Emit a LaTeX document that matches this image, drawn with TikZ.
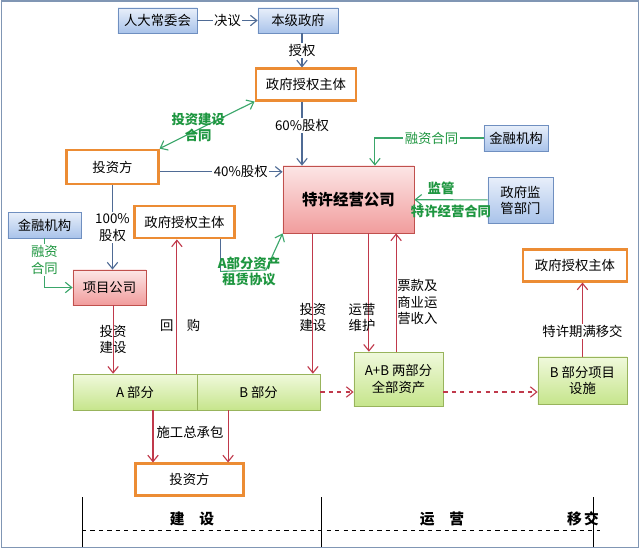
\documentclass[tikz,border=0pt]{standalone}
\usepackage{fontspec}
\setmainfont{Noto Sans CJK SC}
\usetikzlibrary{arrows.meta}

\definecolor{edgeblue}{HTML}{6F8FC0}
\definecolor{blueTop}{HTML}{E8EFFA}
\definecolor{blueBot}{HTML}{A9C3EA}
\definecolor{edgepink}{HTML}{C0504D}
\definecolor{pinkTop}{HTML}{FCE6E6}
\definecolor{pinkBot}{HTML}{F19C9C}
\definecolor{edgelime}{HTML}{98B45C}
\definecolor{limeTop}{HTML}{F0F9DC}
\definecolor{limeBot}{HTML}{C6E58C}
\definecolor{edgeorange}{HTML}{EC8C34}
\definecolor{lineblue}{HTML}{4F6B95}
\definecolor{linered}{HTML}{C0394B}
\definecolor{linegreen}{HTML}{3AA66A}
\definecolor{textgreen}{HTML}{1E9640}
\definecolor{framecol}{HTML}{8096B4}

\begin{document}
\begin{tikzpicture}[x=0.025cm, y=-0.025cm,
    font=\fontsize{9.5}{11.5}\selectfont,
    >={Straight Barb[length=1.6mm,width=2.6mm]},
    wh/.style 2 args={minimum width=#1cm, minimum height=#2cm, inner sep=1pt},
    bluebox/.style={draw=edgeblue, top color=blueTop, bottom color=blueBot},
    pinkbox/.style={draw=edgepink, top color=pinkTop, bottom color=pinkBot},
    limebox/.style={draw=edgelime, top color=limeTop, bottom color=limeBot, align=center},
    orangebox/.style={draw=edgeorange, line width=2pt, fill=white},
    bluearrow/.style={draw=lineblue, line width=0.8pt, ->},
    redarrow/.style={draw=linered, line width=0.8pt, ->},
    greenarrow/.style={draw=linegreen, line width=0.8pt, ->},
    greenbold/.style={text=textgreen, font=\fontsize{9.5}{11.5}\selectfont\bfseries, align=center},
    greenplain/.style={text=textgreen, align=center}]
  \useasboundingbox (0,0) rectangle (640,549);
  \draw[framecol, line width=1pt] (1.5,1) rectangle (638.5,547.5);

  % boxes
  \begin{scope}
    \node[bluebox, wh={1.98}{0.63}] (npc) at (157.5,20.5) {人大常委会};
    \node[bluebox, wh={2}{0.63}] (gov) at (298,20.5) {本级政府};
    \node[orangebox, wh={2.5}{0.78}] (topauth) at (306,84.5) {政府授权主体};
    \node[pinkbox, wh={3.28}{1.68}, font=\fontsize{11}{13}\selectfont\bfseries] (comp) at (348.5,199.5) {特许经营公司};
    \node[orangebox, wh={2.28}{0.85}] (invtop) at (112.5,167) {投资方};
    \node[bluebox, wh={1.6}{0.65}] (finR) at (516,138) {金融机构};
    \node[bluebox, wh={1.63}{1.15}, align=center] (supv) at (520.5,200) {政府监\\管部门};
    \node[bluebox, wh={1.83}{0.65}] (finL) at (44.5,225) {金融机构};
    \node[pinkbox, wh={1.83}{0.88}] (spv) at (109.5,287.5) {项目公司};
    \node[orangebox, wh={2.48}{0.8}] (midauth) at (184.5,222) {政府授权主体};
    \node[limebox, wh={3.1}{0.9}] (partA) at (135,392) {A 部分};
    \node[limebox, wh={3.08}{0.9}] (partB) at (258.5,392) {B 部分};
    \node[limebox, wh={2.23}{1.35}] (assets) at (398.5,379) {A+B 两部分\\全部资产};
    \node[limebox, wh={2.23}{1.18}] (partBfac) at (582.5,380.5) {B 部分项目\\设施};
    \node[orangebox, wh={2.6}{0.78}] (authR) at (575,265.5) {政府授权主体};
    \node[orangebox, wh={2.68}{0.78}] (invbot) at (189.5,479.5) {投资方};
  \end{scope}

  % equity and approval
  \begin{scope}[bluearrow]
    \draw (npc) -- node[fill=white, inner sep=1pt] {决议} (gov);
    \draw ([xshift=0.1cm]gov.south) -- node[fill=white, inner sep=1pt] {授权}
      ([xshift=0.1cm]gov.south |- topauth.north);
    \draw ([xshift=-0.1cm]topauth.south) -- node[fill=white, inner sep=1pt, pos=0.38] {60\%股权}
      ([xshift=-0.1cm]topauth.south |- comp.north);
    \draw ([yshift=-0.12cm]invtop.east) -- node[fill=white, inner sep=1pt, pos=0.66] {40\%股权}
      ([yshift=-0.12cm]invtop.east -| comp.west);
    \draw (invtop.south) -- node[fill=white, inner sep=1pt, align=center] {100\%\\股权}
      (invtop.south |- spv.north);
    \draw[-] ([xshift=0.89cm]midauth.south) -- ++(0,32) coordinate (leasecorner);
  \end{scope}

  % contracts
  \begin{scope}[greenarrow]
    \draw[<->] (invtop.north east) -- node[greenbold, xshift=-0.22cm, yshift=-0.05cm] {投资建设\\合同} (topauth.south west);
    \draw (finR) -| node[greenplain, pos=0.24, fill=white, inner sep=1pt] {融资合同}
      ([xshift=0.66cm]comp.north);
    \draw (supv) -- node[greenbold, above, xshift=-0.25cm] {监管} node[greenbold, below] {特许经营合同} (comp);
    \draw (finL) |- node[greenplain, pos=0.22, fill=white, inner sep=1pt] {融资\\合同} (spv);
    \coordinate (leaseturn) at (266,270);
    \draw (leasecorner) -- (leaseturn) -- (comp.south west);
    \node[greenbold] (leaselbl) at (249,271.5) {A部分资产\\租赁协议};
  \end{scope}

  % construction, operation, transfer
  \begin{scope}[redarrow]
    \draw ([xshift=0.09cm]spv.south) -- node[align=center] {投资\\建设}
      ([xshift=0.09cm]spv.south |- partA.north);
    \coordinate (buyback) at ([xshift=-0.19cm]midauth.south);
    \draw (buyback |- partA.north) -- node[pos=0.36, xshift=0.08cm] {回\quad 购} (buyback);
    \coordinate (buildB) at ([xshift=-0.89cm]comp.south);
    \draw (buildB) -- node[pos=0.6, align=center] {投资\\建设} (buildB |- partB.north);
    \coordinate (maint) at ([xshift=0.51cm]comp.south);
    \draw (maint) -- node[pos=0.71, xshift=-0.17cm, align=center] {运营\\维护} (maint |- assets.north);
    \coordinate (revenue) at ([xshift=1.19cm]comp.south);
    \draw (revenue |- assets.north) -- node[pos=0.42, right, xshift=-0.1cm, align=left] {票款及\\商业运\\营收入}
      (revenue);
    \draw (partBfac.north) -- node[pos=0.34, fill=white, inner sep=1pt] {特许期满移交}
      (partBfac.north |- authR.south);
    \draw ([xshift=0.45cm]partA.south) -- ([xshift=0.45cm]partA.south |- invbot.north);
    \draw ([xshift=-0.76cm]partB.south) -- ([xshift=-0.76cm]partB.south |- invbot.north);
    \node (contractlbl) at (190,432) {施工总承包};
    \draw[dashed] (partB.east) -- (partB.east -| assets.west);
    \draw[dashed] (assets.east |- partB.east) -- (partBfac.west |- partB.east);
  \end{scope}

  % phases
  \begin{scope}[line width=0.7pt]
    \draw (82,497) -- (82,547);
    \draw (321,497) -- (321,547);
    \draw (593,497) -- (593,547);
    \draw[dashed] (82,530) -- (600,530);
  \end{scope}
  \begin{scope}[font=\fontsize{10.5}{12}\selectfont\bfseries]
    \node (phasebuild) at (192,519) {建\quad 设};
    \node (phaseop) at (442,519) {运\quad 营};
    \node (phasetrans) at (583,519) {移\,交};
  \end{scope}
\end{tikzpicture}
\end{document}
